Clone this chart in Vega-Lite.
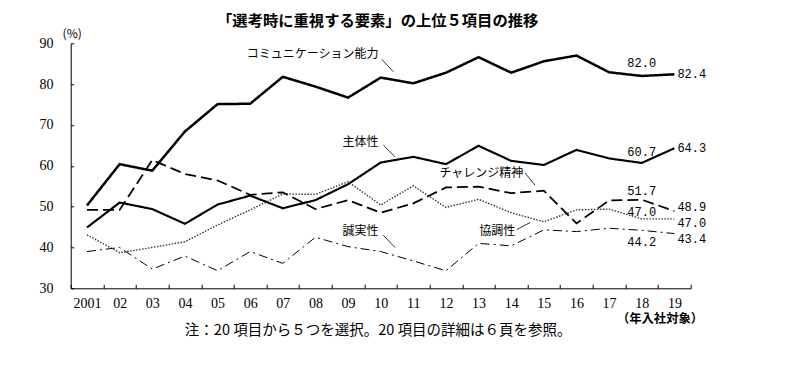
{
  "$schema": "https://vega.github.io/schema/vega-lite/v6.json",
  "width": 620,
  "height": 245,
  "autosize": {"type": "none"},
  "padding": {"left": 70.7, "top": 43.3, "right": 109.3, "bottom": 78.7},
  "background": "white",
  "title": {
    "text": "「選考時に重視する要素」の上位５項目の推移",
    "font": "Noto Sans CJK JP",
    "fontSize": 15.3,
    "fontWeight": "bold",
    "anchor": "middle",
    "frame": "group",
    "dx": -3,
    "offset": -2,
    "color": "black"
  },
  "config": {
    "view": {"stroke": null},
    "axis": {
      "domainColor": "black",
      "tickColor": "black",
      "labelColor": "black",
      "titleColor": "black",
      "grid": false,
      "labelFont": "Liberation Sans Narrow",
      "labelFontSize": 14
    }
  },
  "datasets": {
    "main": [
      {"series": "コミュニケーション能力", "year": 2001, "value": 50.3},
      {"series": "コミュニケーション能力", "year": 2002, "value": 60.4},
      {"series": "コミュニケーション能力", "year": 2003, "value": 58.8},
      {"series": "コミュニケーション能力", "year": 2004, "value": 68.4},
      {"series": "コミュニケーション能力", "year": 2005, "value": 75.1},
      {"series": "コミュニケーション能力", "year": 2006, "value": 75.2},
      {"series": "コミュニケーション能力", "year": 2007, "value": 81.8},
      {"series": "コミュニケーション能力", "year": 2008, "value": 79.4},
      {"series": "コミュニケーション能力", "year": 2009, "value": 76.7},
      {"series": "コミュニケーション能力", "year": 2010, "value": 81.6},
      {"series": "コミュニケーション能力", "year": 2011, "value": 80.2},
      {"series": "コミュニケーション能力", "year": 2012, "value": 82.8},
      {"series": "コミュニケーション能力", "year": 2013, "value": 86.6},
      {"series": "コミュニケーション能力", "year": 2014, "value": 82.8},
      {"series": "コミュニケーション能力", "year": 2015, "value": 85.6},
      {"series": "コミュニケーション能力", "year": 2016, "value": 87.0},
      {"series": "コミュニケーション能力", "year": 2017, "value": 82.9},
      {"series": "コミュニケーション能力", "year": 2018, "value": 82.0},
      {"series": "コミュニケーション能力", "year": 2019, "value": 82.4},
      {"series": "主体性", "year": 2001, "value": 44.9},
      {"series": "主体性", "year": 2002, "value": 51.0},
      {"series": "主体性", "year": 2003, "value": 49.4},
      {"series": "主体性", "year": 2004, "value": 45.8},
      {"series": "主体性", "year": 2005, "value": 50.5},
      {"series": "主体性", "year": 2006, "value": 52.7},
      {"series": "主体性", "year": 2007, "value": 49.6},
      {"series": "主体性", "year": 2008, "value": 51.6},
      {"series": "主体性", "year": 2009, "value": 55.5},
      {"series": "主体性", "year": 2010, "value": 60.8},
      {"series": "主体性", "year": 2011, "value": 62.2},
      {"series": "主体性", "year": 2012, "value": 60.4},
      {"series": "主体性", "year": 2013, "value": 64.9},
      {"series": "主体性", "year": 2014, "value": 61.2},
      {"series": "主体性", "year": 2015, "value": 60.2},
      {"series": "主体性", "year": 2016, "value": 63.9},
      {"series": "主体性", "year": 2017, "value": 61.8},
      {"series": "主体性", "year": 2018, "value": 60.7},
      {"series": "主体性", "year": 2019, "value": 64.3},
      {"series": "チャレンジ精神", "year": 2001, "value": 49.2},
      {"series": "チャレンジ精神", "year": 2002, "value": 49.2},
      {"series": "チャレンジ精神", "year": 2003, "value": 61.4},
      {"series": "チャレンジ精神", "year": 2004, "value": 58.0},
      {"series": "チャレンジ精神", "year": 2005, "value": 56.4},
      {"series": "チャレンジ精神", "year": 2006, "value": 52.9},
      {"series": "チャレンジ精神", "year": 2007, "value": 53.5},
      {"series": "チャレンジ精神", "year": 2008, "value": 49.4},
      {"series": "チャレンジ精神", "year": 2009, "value": 51.6},
      {"series": "チャレンジ精神", "year": 2010, "value": 48.5},
      {"series": "チャレンジ精神", "year": 2011, "value": 50.8},
      {"series": "チャレンジ精神", "year": 2012, "value": 54.7},
      {"series": "チャレンジ精神", "year": 2013, "value": 54.9},
      {"series": "チャレンジ精神", "year": 2014, "value": 53.3},
      {"series": "チャレンジ精神", "year": 2015, "value": 53.9},
      {"series": "チャレンジ精神", "year": 2016, "value": 45.9},
      {"series": "チャレンジ精神", "year": 2017, "value": 51.5},
      {"series": "チャレンジ精神", "year": 2018, "value": 51.7},
      {"series": "チャレンジ精神", "year": 2019, "value": 48.9},
      {"series": "協調性", "year": 2001, "value": 43.1},
      {"series": "協調性", "year": 2002, "value": 38.7},
      {"series": "協調性", "year": 2003, "value": 40.0},
      {"series": "協調性", "year": 2004, "value": 41.4},
      {"series": "協調性", "year": 2005, "value": 45.5},
      {"series": "協調性", "year": 2006, "value": 49.2},
      {"series": "協調性", "year": 2007, "value": 53.1},
      {"series": "協調性", "year": 2008, "value": 53.0},
      {"series": "協調性", "year": 2009, "value": 56.1},
      {"series": "協調性", "year": 2010, "value": 50.4},
      {"series": "協調性", "year": 2011, "value": 55.1},
      {"series": "協調性", "year": 2012, "value": 49.8},
      {"series": "協調性", "year": 2013, "value": 51.8},
      {"series": "協調性", "year": 2014, "value": 48.5},
      {"series": "協調性", "year": 2015, "value": 46.3},
      {"series": "協調性", "year": 2016, "value": 49.2},
      {"series": "協調性", "year": 2017, "value": 49.4},
      {"series": "協調性", "year": 2018, "value": 47.0},
      {"series": "協調性", "year": 2019, "value": 47.0},
      {"series": "誠実性", "year": 2001, "value": 39.0},
      {"series": "誠実性", "year": 2002, "value": 40.0},
      {"series": "誠実性", "year": 2003, "value": 34.7},
      {"series": "誠実性", "year": 2004, "value": 37.9},
      {"series": "誠実性", "year": 2005, "value": 34.3},
      {"series": "誠実性", "year": 2006, "value": 39.0},
      {"series": "誠実性", "year": 2007, "value": 36.1},
      {"series": "誠実性", "year": 2008, "value": 42.5},
      {"series": "誠実性", "year": 2009, "value": 40.2},
      {"series": "誠実性", "year": 2010, "value": 39.0},
      {"series": "誠実性", "year": 2011, "value": 36.7},
      {"series": "誠実性", "year": 2012, "value": 34.3},
      {"series": "誠実性", "year": 2013, "value": 41.0},
      {"series": "誠実性", "year": 2014, "value": 40.4},
      {"series": "誠実性", "year": 2015, "value": 44.3},
      {"series": "誠実性", "year": 2016, "value": 43.9},
      {"series": "誠実性", "year": 2017, "value": 44.7},
      {"series": "誠実性", "year": 2018, "value": 44.2},
      {"series": "誠実性", "year": 2019, "value": 43.4}
    ],
    "names": [
      {"name": "コミュニケーション能力", "year": 2009.93, "value": 87.38},
      {"name": "主体性", "year": 2009.93, "value": 65.87},
      {"name": "チャレンジ精神", "year": 2014.37, "value": 58.12},
      {"name": "誠実性", "year": 2009.93, "value": 43.97},
      {"name": "協調性", "year": 2014.12, "value": 43.97}
    ],
    "leaders": [
      {"name": "コミュニケーション能力", "year": 2010.03, "value": 86.08, "year2": 2010.39, "value2": 83.04},
      {"name": "主体性", "year": 2010.08, "value": 65.06, "year2": 2010.44, "value2": 62.19},
      {"name": "チャレンジ精神", "year": 2014.42, "value": 58.27, "year2": 2014.73, "value2": 55.25},
      {"name": "誠実性", "year": 2010.08, "value": 42.99, "year2": 2010.44, "value2": 39.97},
      {"name": "協調性", "year": 2014.17, "value": 44.39, "year2": 2014.58, "value2": 46.1}
    ],
    "unit": [
      {"caption": "（年入社対象）", "year": 2018.56, "value": 22.4}
    ]
  },
  "layer": [
    {
      "data": {"name": "main"},
      "mark": {"type": "line", "strokeCap": "butt", "strokeJoin": "miter"},
      "encoding": {
        "x": {
          "field": "year",
          "type": "quantitative",
          "scale": {"domain": [2000.5, 2019.5], "nice": false, "zero": false},
          "axis": {
            "values": [2000.5, 2001, 2001.5, 2002, 2002.5, 2003, 2003.5, 2004, 2004.5, 2005, 2005.5, 2006, 2006.5, 2007, 2007.5, 2008, 2008.5, 2009, 2009.5, 2010, 2010.5, 2011, 2011.5, 2012, 2012.5, 2013, 2013.5, 2014, 2014.5, 2015, 2015.5, 2016, 2016.5, 2017, 2017.5, 2018, 2018.5, 2019, 2019.5],
            "tickCount": 200,
            "labelExpr": "datum.value % 1 !== 0 ? '' : (datum.value === 2001 ? '2001' : format(datum.value - 2000, '02d'))",
            "labelOverlap": false,
            "labelBound": false,
            "labelFlush": false,
            "labelAngle": 0,
            "labelPadding": 12,
            "tickSize": -4,
            "tickOpacity": {"condition": {"test": "datum.value % 1 === 0", "value": 0}, "value": 1},
            "title": "注：20 項目から５つを選択。20 項目の詳細は６頁を参照。",
            "titleFont": "Noto Sans CJK JP",
            "titleFontSize": 14.5,
            "titleFontWeight": "normal",
            "titleX": 307,
            "titleY": 42,
            "titleAlign": "center",
            "titleBaseline": "middle"
          }
        },
        "y": {
          "field": "value",
          "type": "quantitative",
          "scale": {"domain": [30, 90], "nice": false, "zero": false},
          "axis": {
            "values": [30, 40, 50, 60, 70, 80, 90],
            "tickCount": 100,
            "format": "d",
            "tickSize": -3,
            "labelPadding": 20.7,
            "title": "(%)",
            "titleAngle": 0,
            "titleX": 1,
            "titleY": -10,
            "titleAlign": "center",
            "titleBaseline": "middle",
            "titleFont": "Noto Sans CJK JP",
            "titleFontSize": 12,
            "titleFontWeight": "normal"
          }
        },
        "detail": {"field": "series"},
        "color": {
          "field": "series",
          "scale": {"domain": ["コミュニケーション能力", "主体性", "チャレンジ精神", "協調性", "誠実性"], "range": ["#000000", "#000000", "#000000", "#333333", "#000000"]},
          "legend": null
        },
        "strokeDash": {
          "field": "series",
          "scale": {"domain": ["コミュニケーション能力", "主体性", "チャレンジ精神", "協調性", "誠実性"], "range": [[1, 0], [1, 0], [11, 5], [1.5, 1.5], [9, 4, 2, 4]]},
          "legend": null
        },
        "strokeWidth": {
          "field": "series",
          "scale": {"domain": ["コミュニケーション能力", "主体性", "チャレンジ精神", "協調性", "誠実性"], "range": [2.5, 1, 2.5, 1, 2.2]},
          "legend": null
        }
      }
    },
    {
      "data": {"name": "leaders"},
      "mark": {"type": "rule", "color": "black", "strokeWidth": 0.8},
      "encoding": {
        "x": {"field": "year", "type": "quantitative"},
        "y": {"field": "value", "type": "quantitative"},
        "x2": {"field": "year2"},
        "y2": {"field": "value2"}
      }
    },
    {
      "data": {"name": "names"},
      "mark": {"type": "text", "align": "right", "baseline": "middle", "font": "Noto Sans CJK JP", "fontSize": 12, "color": "black"},
      "encoding": {
        "x": {"field": "year", "type": "quantitative"},
        "y": {"field": "value", "type": "quantitative"},
        "text": {"field": "name"}
      }
    },
    {
      "data": {"name": "main"},
      "transform": [{"filter": "datum.year === 2018"}],
      "mark": {
        "type": "text", "align": "center", "baseline": "middle", "font": "Liberation Mono", "fontSize": 12, "color": "black",
        "dy": {"expr": "datum.series === 'コミュニケーション能力' ? -13 : (datum.series === '主体性' ? -11 : (datum.series === 'チャレンジ精神' ? -9 : (datum.series === '協調性' ? -7 : 12)))"}
      },
      "encoding": {
        "x": {"field": "year", "type": "quantitative"},
        "y": {"field": "value", "type": "quantitative"},
        "text": {"field": "value", "type": "quantitative", "format": ".1f"}
      }
    },
    {
      "data": {"name": "main"},
      "transform": [{"filter": "datum.year === 2019"}],
      "mark": {
        "type": "text", "align": "left", "baseline": "middle", "font": "Liberation Mono", "fontSize": 12, "color": "black", "dx": 3,
        "dy": {"expr": "datum.series === 'チャレンジ精神' ? -4 : (datum.series === '協調性' ? 4 : (datum.series === '誠実性' ? 5 : 0))"}
      },
      "encoding": {
        "x": {"field": "year", "type": "quantitative"},
        "y": {"field": "value", "type": "quantitative"},
        "text": {"field": "value", "type": "quantitative", "format": ".1f"}
      }
    },
    {
      "data": {"name": "unit"},
      "mark": {"type": "text", "align": "center", "baseline": "middle", "font": "Noto Sans CJK JP", "fontSize": 12.3, "fontWeight": "bold", "color": "black"},
      "encoding": {
        "x": {"field": "year", "type": "quantitative"},
        "y": {"field": "value", "type": "quantitative"},
        "text": {"field": "caption"}
      }
    }
  ]
}
